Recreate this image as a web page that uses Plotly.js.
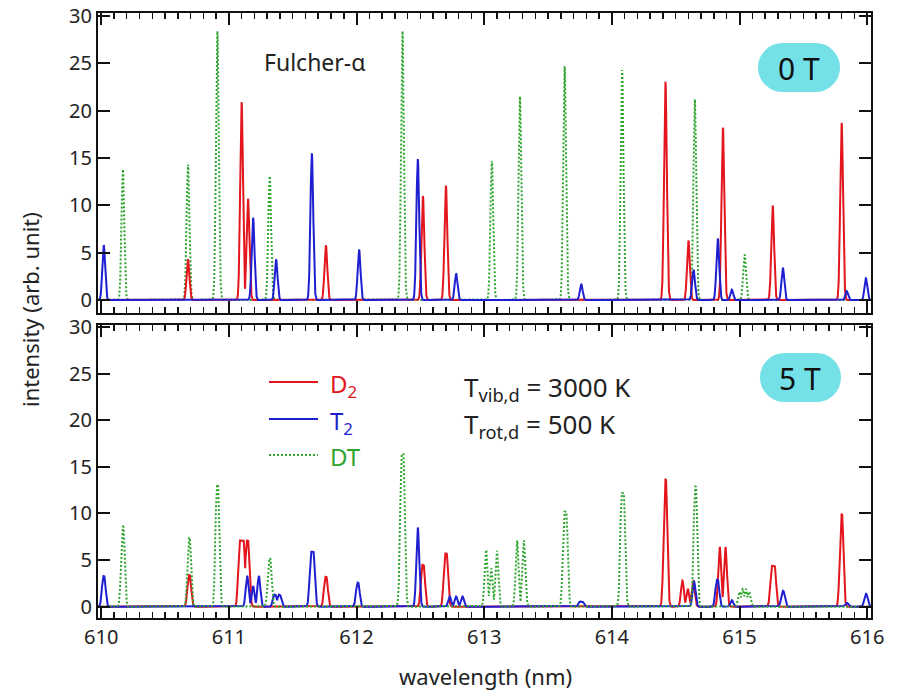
<!DOCTYPE html>
<html><head><meta charset="utf-8">
<script src="https://cdn.plot.ly/plotly-3.0.1.min.js"></script>
<style>body{margin:0;background:#fff}</style>
</head><body><div id="plot" style="width:899px;height:691px"></div>
<script>
// ---------- 0 T spectra: line centres (nm) and peak heights (arb. unit) ----------
const d2_0T_center = [610.68, 611.10, 611.15, 611.76, 612.52, 612.70, 614.42, 614.60, 614.87, 615.26, 615.80];
const d2_0T_height = [4.3, 20.9, 10.7, 5.8, 11.0, 12.1, 23.05, 6.3, 18.2, 10.0, 18.7];
const t2_0T_center = [610.02, 611.19, 611.37, 611.65, 612.02, 612.48, 612.78, 613.76, 614.64, 614.83, 614.94, 615.34, 615.84, 615.99];
const t2_0T_height = [5.8, 8.7, 4.3, 15.5, 5.35, 14.9, 2.8, 1.7, 3.2, 6.5, 1.1, 3.4, 0.95, 2.3];
const dt_0T_center = [610.17, 610.68, 610.91, 611.32, 612.36, 613.06, 613.28, 613.63, 614.08, 614.65, 615.04];
const dt_0T_height = [13.8, 14.3, 28.4, 13.1, 28.4, 14.7, 21.5, 24.7, 24.3, 21.2, 4.8];

// ---------- 5 T spectra: Zeeman components, centre (nm), height, flat-top half width (nm) ----------
const d2_5T_center = [610.69, 611.10, 611.145, 611.76, 612.52, 612.70, 614.42, 614.553, 614.595, 614.638, 614.845, 614.89, 615.264, 615.80];
const d2_5T_height = [3.4, 7.1, 7.1, 3.2, 4.5, 5.7, 13.65, 2.8, 1.9, 2.8, 6.4, 6.4, 4.4, 9.9];
const d2_5T_top    = [0.003, 0.015, 0.005, 0.004, 0.005, 0.006, 0.003, 0.0, 0.0, 0.0, 0.0, 0.0, 0.011, 0.003];
const t2_5T_center = [610.02, 611.144, 611.19, 611.235, 611.36, 611.395, 611.653, 612.01, 612.48, 612.73, 612.78, 612.83, 613.76, 614.644, 614.826, 614.94, 615.34, 615.84, 615.99];
const t2_5T_height = [3.3, 3.3, 2.2, 3.3, 1.3, 1.3, 5.9, 2.6, 8.5, 1.1, 1.1, 1.1, 0.55, 2.7, 2.9, 0.7, 1.7, 0.4, 1.4];
const t2_5T_top    = [0.003, 0.0, 0.0, 0.0, 0.004, 0.004, 0.009, 0.003, 0.0, 0.0, 0.0, 0.0, 0.010, 0.0, 0.004, 0.0, 0.003, 0.003, 0.002];
const dt_5T_center = [610.17, 610.69, 610.91, 611.32, 612.36, 613.015, 613.055, 613.10, 613.258, 613.31, 613.635, 614.085, 614.655, 615.00, 615.025, 615.05, 615.075];
const dt_5T_height = [8.6, 7.4, 13.1, 5.2, 16.4, 6.1, 4.1, 6.0, 7.1, 7.1, 10.2, 12.2, 12.9, 1.6, 1.9, 1.9, 1.6];
const dt_5T_top    = [0.003, 0.003, 0.004, 0.004, 0.007, 0.0, 0.0, 0.0, 0.0, 0.0, 0.008, 0.008, 0.003, 0.0, 0.0, 0.0, 0.0];

const xTicks = [610, 611, 612, 613, 614, 615, 616];
const yTicks = [0, 5, 10, 15, 20, 25, 30];

const RED = '#e3151d', BLUE = '#1f1fd2', GREEN = '#2fa52f';
const FONT = 'Noto Sans, Open Sans, sans-serif';
const DOT = '2px,2px';

// line profile of a list of lines (max of flat-topped gaussian components)
function profile(centers, heights, tops, sigma) {
  const xs = [], ys = [];
  for (let i = 0; i <= 6060; i++) {
    const x = 609.97 + i * 0.001;
    let y = 0;
    for (let k = 0; k < centers.length; k++) {
      const w = tops ? tops[k] : 0;
      const d = Math.max(0, Math.abs(x - centers[k]) - w);
      const v = heights[k] * Math.exp(-d * d / (2 * sigma * sigma));
      if (v > y) y = v;
    }
    xs.push(x); ys.push(y);
  }
  return {x: xs, y: ys};
}

function tr(p, color, dash, xa, ya) {
  return {type: 'scatter', mode: 'lines', x: p.x, y: p.y, xaxis: xa, yaxis: ya,
    line: {color: color, width: 2, dash: dash}, showlegend: false, hoverinfo: 'skip'};
}

const s0 = 0.011, s5 = 0.0115;
const traces = [
  tr(profile(dt_0T_center, dt_0T_height, null, s0), GREEN, DOT, 'x2', 'y2'),
  tr(profile(d2_0T_center, d2_0T_height, null, s0), RED, 'solid', 'x2', 'y2'),
  tr(profile(t2_0T_center, t2_0T_height, null, s0), BLUE, 'solid', 'x2', 'y2'),
  tr(profile(d2_5T_center, d2_5T_height, d2_5T_top, s5), RED, 'solid', 'x', 'y'),
  tr(profile(t2_5T_center, t2_5T_height, t2_5T_top, s5), BLUE, 'solid', 'x', 'y'),
  tr(profile(dt_5T_center, dt_5T_height, dt_5T_top, s5), GREEN, DOT, 'x', 'y'),
];

// paper coordinate helpers (plot area: 98..871 x 13..618 px)
const L = 98, T = 13, W = 773, H = 605;
const px = v => (v - L) / W;
const py = v => (T + H - v) / H;

const xbase = {
  range: [609.975, 616.03], tickvals: xTicks, ticktext: xTicks.map(String),
  ticks: 'inside', ticklen: 12, tickwidth: 2, tickcolor: '#111',
  showline: true, linecolor: '#111', linewidth: 2, mirror: 'allticks',
  minor: {dtick: 0.1, ticks: 'inside', ticklen: 6, tickwidth: 1.5, tickcolor: '#111'},
  showgrid: false, zeroline: false,
  tickfont: {family: FONT, size: 20, color: '#222'}
};
const ybase = {
  tickvals: yTicks, ticktext: yTicks.map(String),
  ticks: 'inside', ticklen: 12, tickwidth: 2, tickcolor: '#111',
  showline: true, linecolor: '#111', linewidth: 2, mirror: 'allticks',
  showgrid: false, zeroline: false,
  tickfont: {family: FONT, size: 20, color: '#222'}
};

function pill(x0, x1, y0, y1, color) {
  const r = (y1 - y0) / 2;
  const base = {xref: 'paper', yref: 'paper', fillcolor: color, line: {width: 0}, layer: 'below'};
  return [
    Object.assign({type: 'circle', x0: px(x0), x1: px(x0 + 2 * r), y0: py(y1), y1: py(y0)}, base),
    Object.assign({type: 'circle', x0: px(x1 - 2 * r), x1: px(x1), y0: py(y1), y1: py(y0)}, base),
    Object.assign({type: 'rect', x0: px(x0 + r), x1: px(x1 - r), y0: py(y1), y1: py(y0)}, base),
  ];
}
function legLine(y, color, dash) {
  return {type: 'line', xref: 'paper', yref: 'paper', x0: px(269), x1: px(318), y0: py(y), y1: py(y),
    line: {color: color, width: 2, dash: dash}};
}
const CYAN = '#74e0e8';
const shapes = [].concat(
  pill(758, 840, 43, 92, CYAN),
  pill(760, 841, 353, 402, CYAN),
  [legLine(382, RED, 'solid'), legLine(419, BLUE, 'solid'), legLine(455, GREEN, DOT)]
);

function ann(text, x, y, opts) {
  return Object.assign({text: text, xref: 'paper', yref: 'paper', x: px(x), y: py(y),
    showarrow: false, xanchor: 'center', yanchor: 'middle',
    font: {family: FONT, size: 22, color: '#222'}}, opts || {});
}
const annotations = [
  ann('intensity (arb. unit)', 30, 310, {textangle: -90}),
  ann('wavelength (nm)', 485, 676),
  ann('Fulcher-α', 315, 62, {font: {family: FONT, size: 23, color: '#222'}}),
  ann('0 T', 799, 68, {font: {family: FONT, size: 30, color: '#111'}}),
  ann('5 T', 800, 378, {font: {family: FONT, size: 30, color: '#111'}}),
  ann('D<sub>2</sub>', 328, 385, {xanchor: 'left', font: {family: FONT, size: 24, color: RED}}),
  ann('T<sub>2</sub>', 328, 422, {xanchor: 'left', font: {family: FONT, size: 24, color: BLUE}}),
  ann('DT', 328, 456, {xanchor: 'left', font: {family: FONT, size: 24, color: GREEN}}),
  ann('T<sub>vib,d</sub> = 3000 K', 462, 388, {xanchor: 'left', font: {family: FONT, size: 26, color: '#222'}}),
  ann('T<sub>rot,d</sub> = 500 K', 462, 425, {xanchor: 'left', font: {family: FONT, size: 26, color: '#222'}}),
];

const layout = {
  width: 899, height: 691,
  margin: {l: L, r: 899 - L - W, t: T, b: 691 - T - H},
  paper_bgcolor: '#fff', plot_bgcolor: '#fff',
  showlegend: false,
  xaxis: Object.assign({}, xbase, {anchor: 'y'}),
  yaxis: Object.assign({}, ybase, {domain: [0, 0.484], range: [-1.21, 30.18], anchor: 'x'}),
  xaxis2: Object.assign({}, xbase, {anchor: 'y2', showticklabels: false}),
  yaxis2: Object.assign({}, ybase, {domain: [0.504, 1], range: [-1.37, 30.32], anchor: 'x2'}),
  shapes: shapes,
  annotations: annotations
};

Plotly.newPlot('plot', traces, layout, {displayModeBar: false, staticPlot: true});
</script></body></html>
